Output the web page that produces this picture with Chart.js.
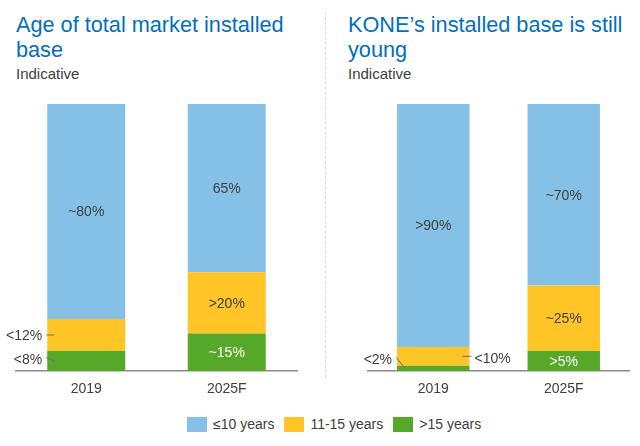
<!DOCTYPE html>
<html>
<head>
<meta charset="utf-8">
<script src="https://cdn.jsdelivr.net/npm/chart.js@4.4.1/dist/chart.umd.min.js"></script>
<style>
    body { margin: 0; width: 640px; height: 446px; background: #fff; position: relative; overflow: hidden;
           font-family: "Liberation Sans", Arial, sans-serif; }
    .title { position: absolute; font-size: 21.7px; line-height: 25px; color: #0070c0; white-space: nowrap; }
    .sub { position: absolute; font-size: 15px; line-height: 18px; color: #404040; }
    .divider { position: absolute; left: 325px; top: 12px; height: 366px; border-left: 1px dashed #d9d9d9; }
    canvas { position: absolute; }
    #legend { position: absolute; left: 187px; top: 416px; display: flex; align-items: center;
              font-size: 14px; color: #404040; }
    #legend .box { width: 20px; height: 15px; margin-right: 6px; }
    #legend .txt { margin-right: 10px; }
</style>
</head>
<body>
<div class="title" style="left:16px; top:12px;">Age of total market installed<br>base</div>
<div class="sub" style="left:16px; top:65px;">Indicative</div>
<div class="title" style="left:348px; top:12px;">KONE’s installed base is still<br>young</div>
<div class="sub" style="left:348px; top:65px;">Indicative</div>
<div class="divider"></div>
<canvas id="marketChart" width="320" height="305" style="left:0; top:95px;"></canvas>
<canvas id="koneChart" width="310" height="305" style="left:330px; top:95px;"></canvas>
<div id="legend"></div>

<script>
var categories = ["2019", "2025F"];
var seriesNames = ["≤10 years", "11-15 years", ">15 years"];
var seriesColors = ["#85c1e6", "#ffc425", "#56a828"];

// total market, % of installed base
var marketUnder10 = [80.5, 63];
var market11to15 = [12, 23];
var marketOver15 = [7.5, 14];
var marketUnder10Labels = ["~80%", "65%"];
var market11to15Labels = ["<12%", ">20%"];
var marketOver15Labels = ["<8%", "~15%"];

// KONE, % of installed base
var koneUnder10 = [91, 68];
var kone11to15 = [7, 24.5];
var koneOver15 = [2, 7.5];
var koneUnder10Labels = [">90%", "~70%"];
var kone11to15Labels = ["<10%", "~25%"];
var koneOver15Labels = ["<2%", ">5%"];

// where each label goes (in the bar, or outside with a leader line), per series
var marketPlace = [["in", "in"], ["left", "in"], ["leftLow", "in"]];
var konePlace = [["in", "in"], ["right", "in"], ["leftHigh", "in"]];

var labelPlugin = {
    id: "segmentLabels",
    afterDatasetsDraw: function (chart) {
        var ctx = chart.ctx;
        var place = chart.options.plugins.segmentLabels.place;
        ctx.save();
        ctx.font = "14px 'Liberation Sans', Arial, sans-serif";
        ctx.textBaseline = "middle";
        ctx.lineWidth = 1;
        ctx.strokeStyle = "#6f6f6f";
        chart.data.datasets.forEach(function (ds, i) {
            var s = ds.seriesIndex;
            var meta = chart.getDatasetMeta(i);
            meta.data.forEach(function (bar, j) {
                var text = ds.valueLabels[j];
                var cy = (bar.y + bar.base) / 2;
                var left = bar.x - bar.width / 2;
                var right = bar.x + bar.width / 2;
                var p = place[s][j];
                ctx.fillStyle = "#404040";
                if (p === "in") {
                    if (s === 2) ctx.fillStyle = "#ffffff";
                    ctx.textAlign = "center";
                    ctx.fillText(text, bar.x, cy + 1);
                    return;
                }
                ctx.beginPath();
                if (p === "left") {
                    ctx.textAlign = "right";
                    ctx.fillText(text, left - 5, cy + 1);
                    ctx.moveTo(left - 1, cy); ctx.lineTo(left + 7, cy);
                } else if (p === "leftLow") {
                    ctx.textAlign = "right";
                    ctx.fillText(text, left - 5, cy - 1);
                    ctx.moveTo(left - 1, cy - 3.5); ctx.lineTo(left + 7, cy);
                } else if (p === "leftHigh") {
                    ctx.textAlign = "right";
                    ctx.fillText(text, left - 5, cy - 8.5);
                    ctx.moveTo(left - 1, cy - 11); ctx.lineTo(left + 8, cy);
                } else if (p === "right") {
                    ctx.textAlign = "left";
                    ctx.fillText(text, right + 5, cy + 3);
                    ctx.moveTo(right - 7, cy); ctx.lineTo(right + 2, cy);
                }
                ctx.stroke();
            });
        });
        ctx.restore();
    }
};

function makeChart(id, values, labels, place, padLeft, padRight) {
    var ctx = document.getElementById(id).getContext("2d");
    var datasets = [];
    // stack from the bottom up: >15, 11-15, <=10
    for (var i = values.length - 1; i >= 0; i--) {
        datasets.push({
            label: seriesNames[i],
            data: values[i],
            valueLabels: labels[i],
            seriesIndex: i,
            backgroundColor: seriesColors[i],
            borderWidth: 0,
            barPercentage: 0.555,
            categoryPercentage: 1
        });
    }
    return new Chart(ctx, {
        type: "bar",
        data: { labels: categories, datasets: datasets },
        plugins: [labelPlugin],
        options: {
            responsive: false,
            animation: false,
            layout: { padding: { left: padLeft, right: padRight, top: 9, bottom: 0 } },
            plugins: {
                legend: { display: false },
                tooltip: { enabled: false },
                segmentLabels: { place: place }
            },
            scales: {
                x: {
                    stacked: true,
                    grid: { display: false, drawTicks: false },
                    border: { display: true, color: "#8c8c8c", width: 1.5 },
                    ticks: { color: "#404040", padding: 10, font: { size: 14, family: "'Liberation Sans', Arial, sans-serif" } },
                    afterFit: function (scale) { scale.height = 29; }
                },
                y: { stacked: true, display: false, min: 0, max: 100 }
            }
        }
    });
}

makeChart("marketChart",
    [marketUnder10, market11to15, marketOver15],
    [marketUnder10Labels, market11to15Labels, marketOver15Labels],
    marketPlace, 16, 23);
makeChart("koneChart",
    [koneUnder10, kone11to15, koneOver15],
    [koneUnder10Labels, kone11to15Labels, koneOver15Labels],
    konePlace, 38, 11);

var legend = document.getElementById("legend");
seriesNames.forEach(function (name, i) {
    var box = document.createElement("span");
    box.className = "box";
    box.style.background = seriesColors[i];
    var txt = document.createElement("span");
    txt.className = "txt";
    txt.textContent = name;
    legend.appendChild(box);
    legend.appendChild(txt);
});
</script>
</body>
</html>
